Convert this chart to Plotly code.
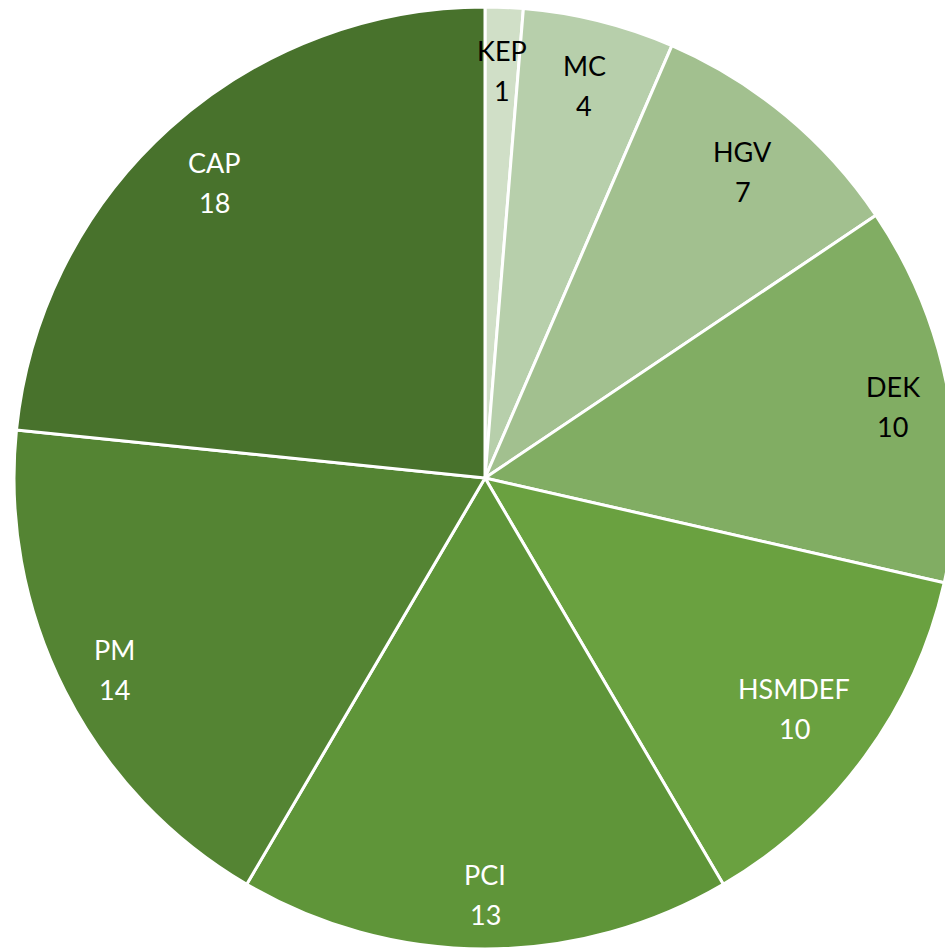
import math
import plotly.graph_objects as go

labels = ["KEP", "MC", "HGV", "DEK", "HSMDEF", "PCI", "PM", "CAP"]
values = [1, 4, 7, 10, 10, 13, 14, 18]
colors = ["#d0dfc7", "#b7cfab", "#a2c08f", "#81ad63", "#6aa140", "#5f9539", "#548433", "#48722c"]
text_colors = ["black", "black", "black", "black", "white", "white", "white", "white"]

W, H = 970, 954
cx, cy, r = 485, 478, 471
font_family = "Lato"
font_size = 27
char_w = 18      # approx. px per character
box_h = 70       # approx. height of the two-line label block

fig = go.Figure(go.Pie(
    labels=labels,
    values=values,
    sort=False,
    direction="clockwise",
    rotation=0,
    marker=dict(colors=colors, line=dict(color="white", width=3)),
    textinfo="none",
    hoverinfo="label+value",
    domain=dict(x=[(cx - r) / W, (cx + r) / W], y=[(H - cy - r) / H, (H - cy + r) / H]),
))

total = sum(values)
cum = 0
annotations = []
for lab, val, tc in zip(labels, values, text_colors):
    mid = (cum + val / 2) / total * 2 * math.pi
    cum += val
    s, c = math.sin(mid), math.cos(mid)
    bw = char_w * max(len(lab), len(str(val)))
    extent = abs(s) * bw / 2 + abs(c) * box_h / 2
    d = 0.95 * r - extent
    px = cx + d * s
    py = cy - d * c
    for txt, ys in ((lab, 16), (str(val), -24)):
        annotations.append(dict(
            x=px / W, y=1 - py / H, xref="paper", yref="paper",
            text=txt, showarrow=False, xanchor="center", yanchor="middle",
            yshift=ys, font=dict(family=font_family, size=font_size, color=tc),
        ))

fig.update_layout(
    width=W, height=H, autosize=False,
    margin=dict(l=0, r=0, t=0, b=0),
    showlegend=False,
    paper_bgcolor="white",
    annotations=annotations,
)
fig.write_html(
    "out.html",
    config={"displayModeBar": False},
    post_script="document.body.style.margin='0';document.body.style.overflow='hidden';",
)
